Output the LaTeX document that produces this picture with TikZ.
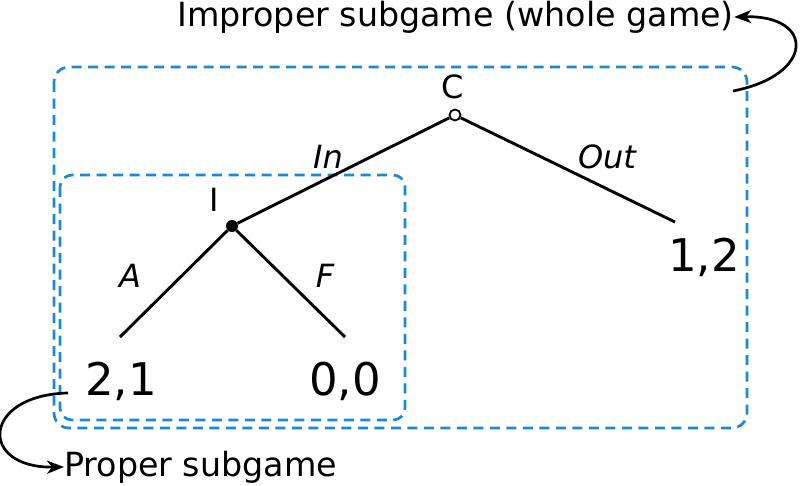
\documentclass[tikz,border=0pt]{standalone}
\usepackage{fontspec}
\setmainfont{DejaVu Sans}
\usetikzlibrary{arrows.meta}
\definecolor{subblue}{RGB}{27,138,214}
\tikzset{
  every picture/.style={x=1pt,y=-1pt},
  branch/.style={line width=2.9pt},
  subbox/.style={draw=subblue,line width=2.7pt,dash pattern=on 10pt off 6.5pt,rounded corners=15pt},
  pointer/.style={line width=2.7pt,-{Stealth[length=17pt,width=13pt,inset=5pt]}},
  player/.style={font=\fontsize{32}{38}\selectfont},
  move/.style={font=\fontsize{32}{38}\selectfont\itshape},
  payoff/.style={font=\fontsize{45}{52}\selectfont},
  note/.style={font=\fontsize{33.3}{40}\selectfont,inner sep=0pt},
}
\begin{document}
\begin{tikzpicture}
    \useasboundingbox[fill=white] (0,0) rectangle (800,485);
    % subgame boxes
    \draw[subbox] (54,67) rectangle (747,428);
    \draw[subbox,rounded corners=12pt] (60,175) rectangle (405,420);
    % decision nodes
    \node[circle,draw,fill=white,line width=1.8pt,inner sep=0pt,minimum size=11pt] (c) at (455,115) {};
    \node[circle,fill,inner sep=0pt,minimum size=12pt] (i) at (232,226) {};
    \node[player] (tc) at (453,87) {C};
    \node[player] (ti) at (214,200) {I};
    % branch ends
    \coordinate (out) at (675,222);
    \coordinate (acc) at (120,337);
    \coordinate (fig) at (345,337);
    % payoffs
    \node[payoff] (p12) at (704,257) {1,2};
    \node[payoff] (p21) at (121,381) {2,1};
    \node[payoff] (p00) at (345,381) {0,0};
    % moves
    \draw[branch] (c) -- (i);
    \draw[branch] (c) -- (out);
    \draw[branch] (i) -- (acc);
    \draw[branch] (i) -- (fig);
    \node[move] (tin) at (328,157) {In};
    \node[move] (tout) at (607,157) {Out};
    \node[move] (ta) at (130,276) {A};
    \node[move] (tf) at (325,276) {F};
    % notes
    \node[note,anchor=west] (imp) at (177,17) {Improper subgame (whole game)};
    \node[note,anchor=west] (prop) at (64,467) {Proper subgame};
    \coordinate (impfrom) at (733,91);
    \coordinate (propfrom) at (68,393);
    \draw[pointer] (impfrom) .. controls (815,75) and (815,15) .. (imp.east);
    \draw[pointer] (propfrom) .. controls (-18,395) and (-22,468) .. (prop.west);
\end{tikzpicture}
\end{document}
